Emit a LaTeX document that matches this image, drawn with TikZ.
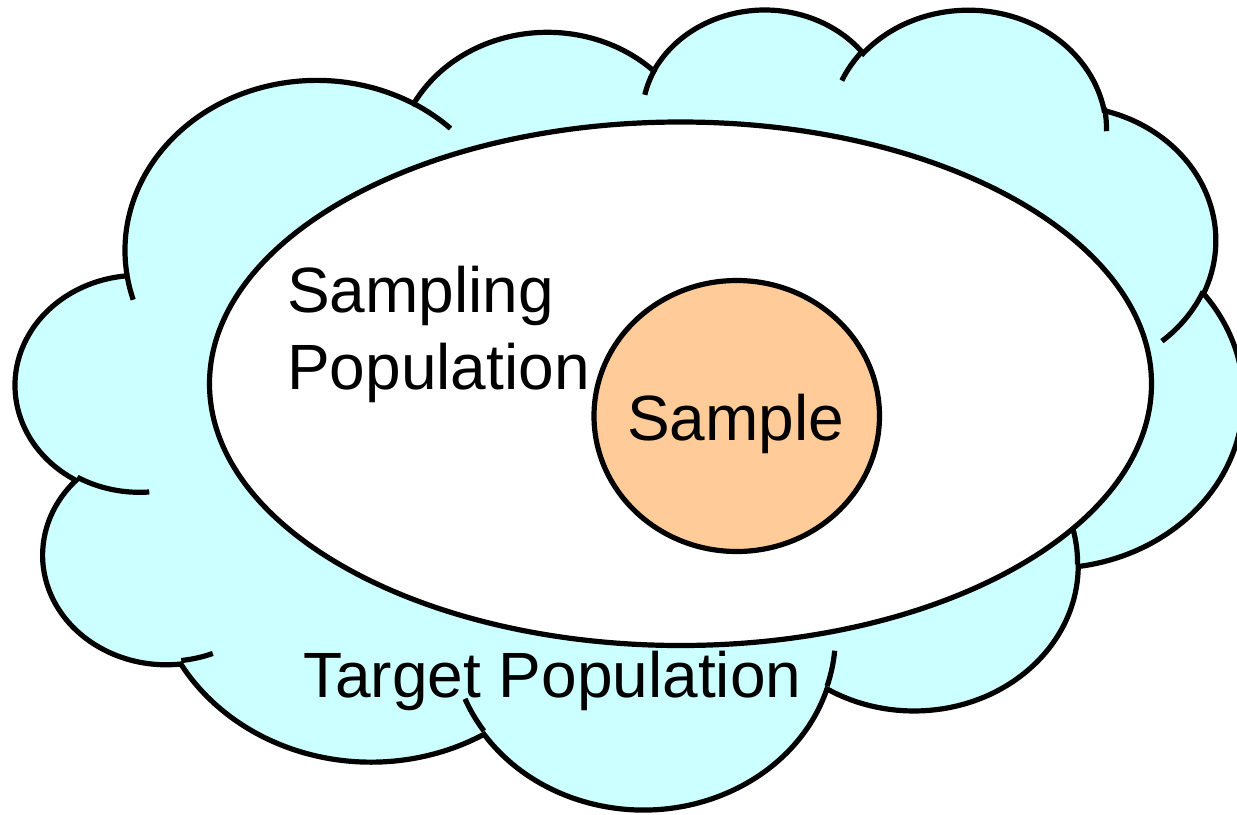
\documentclass[tikz,border=0pt]{standalone}
\usepackage{fontspec}
\setmainfont{Liberation Sans}
\definecolor{cloudfill}{HTML}{CCFFFF}
\definecolor{samplefill}{HTML}{FFCC99}
% arc on an ellipse given (as in DrawingML) by visual start/sweep angles
\newcommand\mkcloudarc[5]{%
  \pgfmathsetmacro\cloudS{atan2((#2)*sin(#4),(#3)*cos(#4))}%
  \pgfmathsetmacro\cloudE{atan2((#2)*sin((#4)+(#5)),(#3)*cos((#4)+(#5)))}%
  \pgfmathsetmacro\cloudD{mod(\cloudE-\cloudS+720,360)}%
  \edef\cloudtmp{\noexpand\tikzset{#1/.style={x radius=#2,y radius=#3,start angle=\cloudS,delta angle=\cloudD}}}%
  \cloudtmp}
% outline bumps
\mkcloudarc{cA}{675.3}{919.0}{-190.48748}{123.78053}
\mkcloudarc{cB}{533.3}{726.7}{-144.10238}{89.94523}
\mkcloudarc{cC}{436.5}{594.5}{-145.80792}{99.72302}
\mkcloudarc{cD}{485.7}{659.5}{-130.98607}{117.24173}
\mkcloudarc{cE}{533.3}{727.3}{-78.70888}{109.02692}
\mkcloudarc{cF}{677.5}{922.0}{-46.26725}{130.26900}
\mkcloudarc{cG}{578.5}{786.7}{0.62502}{114.03333}
\mkcloudarc{cH}{675.2}{921.5}{22.45160}{115.17255}
\mkcloudarc{cI}{772.0}{1054.3}{66.24263}{75.71102}
\mkcloudarc{cJ}{436.0}{591.8}{-274.94208}{146.73557}
\mkcloudarc{cK}{434.5}{594.5}{-246.82850}{152.51885}
% inner hooks
\mkcloudarc{hA}{434.5}{594.5}{86.74200}{26.42950}
\mkcloudarc{hB}{436.0}{591.8}{73.61047}{11.44747}
\mkcloudarc{hC}{675.2}{921.5}{137.62415}{14.08110}
\mkcloudarc{hD}{675.2}{921.5}{6.45327}{15.99835}
\mkcloudarc{hE}{578.5}{786.7}{-70.29235}{70.91737}
\mkcloudarc{hF}{533.3}{727.3}{30.31803}{27.75150}
\mkcloudarc{hG}{485.7}{659.5}{-13.74433}{14.85890}
\mkcloudarc{hH}{485.7}{659.5}{-149.18145}{18.19537}
\mkcloudarc{hI}{436.5}{594.5}{-163.49427}{17.68635}
\mkcloudarc{hJ}{675.3}{919.0}{-66.70695}{12.31935}
\mkcloudarc{hK}{675.3}{919.0}{157.65435}{11.85817}
\tikzset{
  outline/.style={draw=black, line width=5.2pt},
  cloudshape/.style={outline, fill=cloudfill},
  hookline/.style={draw=black, line width=5.2pt},
  bigtext/.style={font=\fontsize{64}{77}\selectfont, inner sep=0pt, text=black},
}
\begin{document}
\begin{tikzpicture}[x=1pt,y=-1pt]
\useasboundingbox (0,0) rectangle (1237,814);
% Target population: cloud
\begin{scope}[x=1pt,y=1pt,shift={(16pt,-7.4pt)},xscale=0.284,yscale=-0.18512]
  \path[cloudshape] (390,1437) arc[cA] arc[cB] arc[cC] arc[cD] arc[cE] arc[cF]
     arc[cG] arc[cH] arc[cI] arc[cJ] arc[cK] -- cycle;
  \draw[hookline] (469.3,2617.7) arc[hA];
  \draw[hookline] (692.8,3489.9) arc[hB];
  \draw[hookline] (1647.8,3909.0) arc[hC];
  \draw[hookline] (2882.7,3475.1) arc[hD];
  \draw[hookline] (3412.9,2295.4) arc[hE];
  \draw[hookline] (4179.8,1535.4) arc[hF];
  \draw[hookline] (3832.4,542.6) arc[hG];
  \draw[hookline] (2907.8,395.2) arc[hH];
  \draw[hookline] (2214.1,472.0) arc[hI];
  \draw[hookline] (1400.0,519.2) arc[hJ];
  \draw[hookline] (412.7,1578.9) arc[hK];
\end{scope}
% Sampling population: ellipse
\draw[outline, fill=white] (680.5,383.75) ellipse [x radius=471, y radius=261.75];
% Sample: circle
\draw[outline, fill=samplefill] (736.75,416) ellipse [x radius=142.75, y radius=135.5];
\node[bigtext, anchor=base west] (sampling) at (287,312) {Sampling};
\node[bigtext, anchor=base west] (population) at (287,389) {Population};
\node[bigtext, anchor=base] (sample) at (735.5,440) {Sample};
\node[bigtext, anchor=base west] (target) at (303,697) {Target Population};
\end{tikzpicture}
\end{document}
